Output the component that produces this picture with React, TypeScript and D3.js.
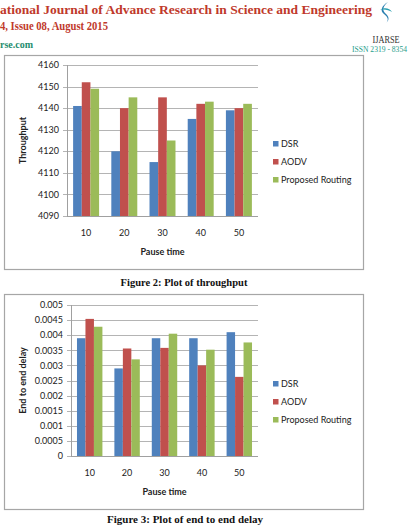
import React, { useEffect, useRef } from "react";
import * as d3 from "d3";

// pause time categories shared by both plots
const pauseTimes = ["10", "20", "30", "40", "50"];
const seriesNames = ["DSR", "AODV", "Proposed Routing"];
const seriesColors = ["#4f81bd", "#c0504d", "#9bbb59"];

// throughput per protocol
const throughputDSR = [4141, 4120, 4115, 4135, 4139];
const throughputAODV = [4152, 4140, 4145, 4142, 4140];
const throughputProposed = [4149, 4145, 4125, 4143, 4142];
const throughputTicks = [4090, 4100, 4110, 4120, 4130, 4140, 4150, 4160];

// end to end delay per protocol
const delayDSR = [0.0039, 0.0029, 0.0039, 0.0039, 0.0041];
const delayAODV = [0.00454, 0.00356, 0.00358, 0.003, 0.00262];
const delayProposed = [0.00428, 0.0032, 0.00405, 0.00352, 0.00376];
const delayTicks = [0, 0.0005, 0.001, 0.0015, 0.002, 0.0025, 0.003, 0.0035, 0.004, 0.0045, 0.005];

const sans = "Lato, 'Open Sans', sans-serif";
const serif = "'Liberation Serif', 'Times New Roman', serif";

interface ChartSpec {
  frame: [number, number, number, number];
  plot: { left: number; right: number; top: number; bottom: number };
  series: number[][];
  ticks: number[];
  tickFormat: (v: number) => string;
  yTitle: string;
  legendY: number;
}

function drawChart(root: d3.Selection<SVGSVGElement, unknown, null, undefined>, spec: ChartSpec) {
  const { plot } = spec;
  const g = root.append("g");
  const [fx, fy, fw, fh] = spec.frame;

  g.append("rect")
    .attr("x", fx + 0.5)
    .attr("y", fy + 0.5)
    .attr("width", fw)
    .attr("height", fh)
    .attr("fill", "#fff")
    .attr("stroke", "#a6a6a6")
    .attr("stroke-width", 1.2);

  const y = d3
    .scaleLinear()
    .domain([spec.ticks[0], spec.ticks[spec.ticks.length - 1]])
    .range([plot.bottom, plot.top]);
  const x = d3
    .scaleBand<string>()
    .domain(pauseTimes)
    .range([plot.left, plot.right])
    .paddingInner(0.32)
    .paddingOuter(0.16);
  const xs = d3
    .scaleBand<number>()
    .domain(d3.range(spec.series.length))
    .range([0, x.bandwidth()]);

  // gridlines with small outward ticks
  g.selectAll("line.grid")
    .data(spec.ticks)
    .join("line")
    .attr("x1", plot.left - 4)
    .attr("x2", plot.right)
    .attr("y1", (d) => Math.round(y(d)) + 0.5)
    .attr("y2", (d) => Math.round(y(d)) + 0.5)
    .attr("stroke", "#b4b4b4")
    .attr("stroke-width", 1);

  g.selectAll("text.ytick")
    .data(spec.ticks)
    .join("text")
    .attr("x", plot.left - 8)
    .attr("y", (d) => y(d) + 3.2)
    .attr("text-anchor", "end")
    .attr("font-family", sans)
    .attr("font-size", 9)
    .attr("fill", "#222")
    .text(spec.tickFormat);

  spec.series.forEach((vals, si) => {
    g.selectAll(`rect.s${si}`)
      .data(vals)
      .join("rect")
      .attr("x", (_, i) => (x(pauseTimes[i]) ?? 0) + (xs(si) ?? 0))
      .attr("y", (d) => y(d))
      .attr("width", xs.bandwidth())
      .attr("height", (d) => plot.bottom - y(d))
      .attr("fill", seriesColors[si]);
  });

  // axes
  g.append("line")
    .attr("x1", plot.left + 0.5)
    .attr("x2", plot.left + 0.5)
    .attr("y1", plot.top)
    .attr("y2", plot.bottom)
    .attr("stroke", "#a0a0a0");
  g.append("line")
    .attr("x1", plot.left)
    .attr("x2", plot.right)
    .attr("y1", plot.bottom + 0.5)
    .attr("y2", plot.bottom + 0.5)
    .attr("stroke", "#a0a0a0");

  g.selectAll("text.xtick")
    .data(pauseTimes)
    .join("text")
    .attr("x", (d) => (x(d) ?? 0) + x.bandwidth() / 2)
    .attr("y", plot.bottom + 20)
    .attr("text-anchor", "middle")
    .attr("font-family", sans)
    .attr("font-size", 9)
    .attr("fill", "#222")
    .text((d) => d);

  g.append("text")
    .attr("x", (plot.left + plot.right) / 2)
    .attr("y", plot.bottom + 39)
    .attr("text-anchor", "middle")
    .attr("font-family", sans)
    .attr("font-weight", "bold")
    .attr("font-size", 9)
    .attr("fill", "#222")
    .text("Pause time");

  g.append("text")
    .attr("transform", `translate(${fx + 22},${(plot.top + plot.bottom) / 2}) rotate(-90)`)
    .attr("text-anchor", "middle")
    .attr("font-family", sans)
    .attr("font-weight", "bold")
    .attr("font-size", 9)
    .attr("fill", "#222")
    .text(spec.yTitle);

  const legend = g
    .selectAll("g.legend")
    .data(seriesNames)
    .join("g")
    .attr("transform", (_, i) => `translate(273,${spec.legendY + i * 18})`);
  legend
    .append("rect")
    .attr("x", 0)
    .attr("y", -6)
    .attr("width", 5.5)
    .attr("height", 5.5)
    .attr("fill", (_, i) => seriesColors[i]);
  legend
    .append("text")
    .attr("x", 8)
    .attr("y", 0)
    .attr("font-family", sans)
    .attr("font-size", 9)
    .attr("fill", "#222")
    .text((d) => d);
}

export default function App() {
  const ref = useRef<SVGSVGElement>(null);

  useEffect(() => {
    const svg = d3.select(ref.current!);
    svg.selectAll("*").remove();

    // journal header
    svg.append("text")
      .attr("x", 0)
      .attr("y", 14)
      .attr("font-family", serif)
      .attr("font-weight", "bold")
      .attr("font-size", 13.5)
      .attr("fill", "#c0392b")
      .attr("textLength", 372)
      .attr("lengthAdjust", "spacingAndGlyphs")
      .text("ational Journal of Advance Research in Science and Engineering");
    svg.append("text")
      .attr("x", 0)
      .attr("y", 30)
      .attr("font-family", serif)
      .attr("font-weight", "bold")
      .attr("font-size", 11.5)
      .attr("fill", "#c0392b")
      .attr("textLength", 108)
      .attr("lengthAdjust", "spacingAndGlyphs")
      .text("4, Issue 08, August 2015");
    svg.append("text")
      .attr("x", 0)
      .attr("y", 48)
      .attr("font-family", serif)
      .attr("font-weight", "bold")
      .attr("font-size", 11)
      .attr("fill", "#1e8c6e")
      .attr("textLength", 33)
      .attr("lengthAdjust", "spacingAndGlyphs")
      .text("rse.com");
    svg.append("text")
      .attr("x", 386)
      .attr("y", 43)
      .attr("text-anchor", "middle")
      .attr("font-family", serif)
      .attr("font-size", 11)
      .attr("fill", "#333")
      .attr("textLength", 27)
      .attr("lengthAdjust", "spacingAndGlyphs")
      .text("IJARSE");
    svg.append("text")
      .attr("x", 352)
      .attr("y", 52)
      .attr("font-family", serif)
      .attr("font-size", 7.5)
      .attr("fill", "#1e9c8a")
      .attr("textLength", 55)
      .attr("lengthAdjust", "spacingAndGlyphs")
      .text("ISSN 2319 - 8354");
    // logo swirl
    svg.append("path")
      .attr("d", "M388,2 C381,6 380,11 384,14 C388,17 389,20 386,23 C390,20 389,16 385,13 C382,10 383,6 388,2 Z")
      .attr("fill", "#2a7fb0");
    svg.append("path")
      .attr("d", "M380,10 C384,7 390,8 392,12 C389,10 384,9 380,10 Z")
      .attr("fill", "#2a9fb0");

    drawChart(svg, {
      frame: [4, 55, 359, 214],
      plot: { left: 67, right: 258, top: 65, bottom: 216 },
      series: [throughputDSR, throughputAODV, throughputProposed],
      ticks: throughputTicks,
      tickFormat: (v) => String(v),
      yTitle: "Throughput",
      legendY: 147,
    });

    svg.append("text")
      .attr("x", 184)
      .attr("y", 286)
      .attr("text-anchor", "middle")
      .attr("font-family", serif)
      .attr("font-weight", "bold")
      .attr("font-size", 10.5)
      .attr("fill", "#111")
      .text("Figure 2: Plot of throughput");

    drawChart(svg, {
      frame: [4, 294, 359, 215],
      plot: { left: 71, right: 258, top: 305, bottom: 456 },
      series: [delayDSR, delayAODV, delayProposed],
      ticks: delayTicks,
      tickFormat: (v) => (v === 0 ? "0" : String(+v.toFixed(4))),
      yTitle: "End to end delay",
      legendY: 387,
    });

    svg.append("text")
      .attr("x", 185)
      .attr("y", 523)
      .attr("text-anchor", "middle")
      .attr("font-family", serif)
      .attr("font-weight", "bold")
      .attr("font-size", 11)
      .attr("fill", "#111")
      .text("Figure 3: Plot of end to end delay");
  }, []);

  return (
    <svg
      ref={ref}
      width={409}
      height={527}
      style={{ position: "absolute", left: 0, top: 0, background: "#fff" }}
    />
  );
}
